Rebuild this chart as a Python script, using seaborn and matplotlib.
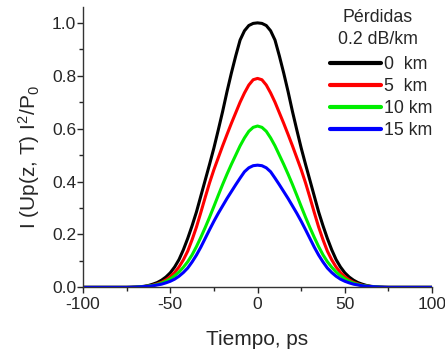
import numpy as np
import pandas as pd
import matplotlib
matplotlib.use("Agg")
import matplotlib.pyplot as plt
from matplotlib.ticker import MultipleLocator
import seaborn as sns

# values (ps, normalised power)
tiempo = [-100, -75, -72.5, -70, -67.5, -65, -62.5, -60, -57.5, -55, -52.5, -50, -47.5, -45, -42.5,
          -40, -37.5, -35, -32.5, -30, -27.5, -25, -22.5, -20, -17.5, -15, -12.5, -10, -7.5, -5, -2.5,
          0, 2.5, 5, 7.5, 10, 12.5, 15, 17.5, 20, 22.5, 25, 27.5, 30, 32.5, 35, 37.5, 40, 42.5, 45,
          47.5, 50, 52.5, 55, 57.5, 60, 62.5, 65, 67.5, 70, 72.5, 75, 100]
p_0km = [0.0, 0.0, 0.0005, 0.001, 0.002, 0.004, 0.007, 0.012, 0.018, 0.027, 0.039, 0.055, 0.077, 0.105,
         0.142, 0.185, 0.233, 0.285, 0.345, 0.405, 0.465, 0.527, 0.595, 0.665, 0.74, 0.81, 0.875, 0.935,
         0.97, 0.99, 0.998, 1.0, 0.998, 0.99, 0.97, 0.935, 0.875, 0.81, 0.74, 0.665, 0.595, 0.527, 0.465,
         0.405, 0.345, 0.285, 0.233, 0.185, 0.142, 0.105, 0.077, 0.055, 0.039, 0.027, 0.018, 0.012,
         0.007, 0.004, 0.002, 0.001, 0.0005, 0.0, 0.0]
p_5km = [0.0, 0.0, 0.0, 0.001, 0.002, 0.003, 0.005, 0.008, 0.013, 0.019, 0.028, 0.04, 0.056, 0.077,
         0.104, 0.137, 0.18, 0.228, 0.283, 0.34, 0.395, 0.445, 0.49, 0.535, 0.578, 0.62, 0.66, 0.70,
         0.735, 0.765, 0.785, 0.79, 0.785, 0.765, 0.735, 0.70, 0.66, 0.62, 0.578, 0.535, 0.49, 0.445,
         0.395, 0.34, 0.283, 0.228, 0.18, 0.137, 0.104, 0.077, 0.056, 0.04, 0.028, 0.019, 0.013, 0.008,
         0.005, 0.003, 0.002, 0.001, 0.0, 0.0, 0.0]
p_10km = [0.0, 0.0, 0.0, 0.001, 0.002, 0.003, 0.005, 0.007, 0.011, 0.016, 0.023, 0.032, 0.044, 0.058,
          0.076, 0.097, 0.123, 0.154, 0.189, 0.226, 0.265, 0.306, 0.348, 0.389, 0.428, 0.465, 0.50, 0.535,
          0.565, 0.59, 0.605, 0.61, 0.605, 0.59, 0.565, 0.535, 0.50, 0.465, 0.428, 0.389, 0.348, 0.306,
          0.265, 0.226, 0.189, 0.154, 0.123, 0.097, 0.076, 0.058, 0.044, 0.032, 0.023, 0.016, 0.011,
          0.007, 0.005, 0.003, 0.002, 0.001, 0.0, 0.0, 0.0]
p_15km = [0.0, 0.0, 0.0005, 0.001, 0.002, 0.003, 0.004, 0.006, 0.009, 0.012, 0.017, 0.023, 0.031, 0.042,
          0.056, 0.073, 0.096, 0.122, 0.152, 0.185, 0.218, 0.25, 0.28, 0.308, 0.336, 0.362, 0.388,
          0.413, 0.437, 0.452, 0.46, 0.462, 0.46, 0.452, 0.437, 0.413, 0.388, 0.362, 0.336, 0.308,
          0.28, 0.25, 0.218, 0.185, 0.152, 0.122, 0.096, 0.073, 0.056, 0.042, 0.031, 0.023, 0.017,
          0.012, 0.009, 0.006, 0.004, 0.003, 0.002, 0.001, 0.0005, 0.0, 0.0]

etiquetas = ["0  km", "5  km", "10 km", "15 km"]
colores = ["black", "#ff0000", "#00ee00", "#0000ff"]
series = [p_0km, p_5km, p_10km, p_15km]

sns.set_style("ticks")
plt.rcParams['font.family'] = ['Liberation Sans', 'DejaVu Sans']
plt.rcParams['mathtext.fontset'] = 'custom'
plt.rcParams['mathtext.rm'] = 'Liberation Sans'
plt.rcParams['mathtext.it'] = 'Liberation Sans'
plt.rcParams['axes.unicode_minus'] = False

fig = plt.figure(figsize=(4.45, 3.5), dpi=100)
ax = fig.add_axes([0.1865, 0.179, 0.7845, 0.801])

for lab, col, ys in zip(etiquetas, colores, series):
    sns.lineplot(x=tiempo, y=ys, color=col, lw=2.2, label=lab, ax=ax)

ax.set_xlim(-100, 100)
ax.set_ylim(0, 1.06)
ax.xaxis.set_major_locator(MultipleLocator(50))
ax.xaxis.set_minor_locator(MultipleLocator(25))
ax.yaxis.set_minor_locator(MultipleLocator(0.1))
ax.set_yticks([0, 0.2, 0.4, 0.6, 0.8, 1.0])
ax.set_yticklabels(["0.0", "0.2", "0.4", "0.6", "0.8", "1.0"])
ax.tick_params(which='major', direction='out', length=4, width=1, labelsize=12.5, pad=1)
ax.tick_params(axis='x', which='major', pad=3)
ax.tick_params(which='minor', direction='out', length=3, width=1)
sns.despine(ax=ax)
for s in ["left", "bottom"]:
    ax.spines[s].set_linewidth(1.0)
    ax.spines[s].set_color("#333333")

ax.set_xlabel("Tiempo, ps", fontsize=15, labelpad=13)
ax.set_ylabel(r"I (Up(z, T) I$^2$/P$_0$", fontsize=15)
ax.yaxis.set_label_coords(-0.118, 0.465)

# legend title as two centred lines, entries below
fig.text(0.849, 0.949, "Pérdidas", ha="center", va="center", fontsize=12.8)
fig.text(0.849, 0.886, "0.2 dB/km", ha="center", va="center", fontsize=12.8)
leg = ax.legend(loc="upper right", bbox_to_anchor=(0.972, 0.84), bbox_transform=fig.transFigure,
                frameon=False, fontsize=12.8, handlelength=2.9, handletextpad=0.15,
                labelspacing=0.28, borderpad=0.0, borderaxespad=0.0)
for h in leg.get_lines():
    h.set_linewidth(3.0)

fig.savefig("out.png", dpi=100)
